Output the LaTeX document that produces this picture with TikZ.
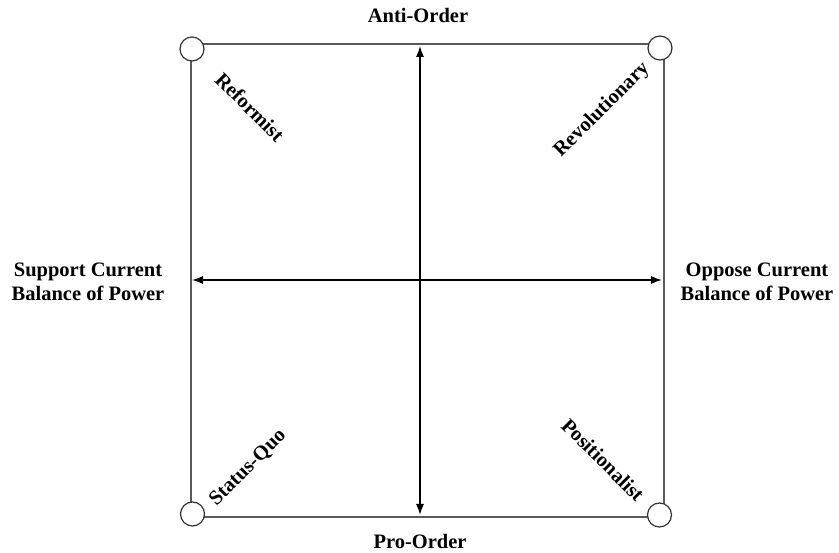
\documentclass[tikz,border=0pt]{standalone}
\usepackage{fontspec}
\setmainfont{Liberation Serif}
\usetikzlibrary{arrows.meta}
\begin{document}
\begin{tikzpicture}[x=1pt,y=-1pt,
  lbl/.style={font=\fontsize{20.5}{24}\selectfont\bfseries, align=center, inner sep=0pt},
  boxline/.style={draw=black!65, line width=1.3pt},
  corner/.style={circle, draw=black!80, fill=white, line width=1.2pt, minimum size=24pt, inner sep=0pt},
  axis/.style={line width=1.3pt, {Latex[length=11pt,width=8pt]}-{Latex[length=11pt,width=8pt]}}
]
\useasboundingbox (0,0) rectangle (839,553);
\coordinate (tl) at (191,44);
\coordinate (tr) at (664,44);
\coordinate (bl) at (191,517);
\coordinate (br) at (664,517);
\draw[boxline] (tl) -- (tr) -- (br) -- (bl) -- cycle;
\node[corner] (ctl) at (192,49) {};
\node[corner] (ctr) at (660,48) {};
\node[corner] (cbl) at (192.5,514) {};
\node[corner] (cbr) at (659.5,515) {};
\coordinate (vt) at (420,46);
\coordinate (vb) at (420,515);
\coordinate (hl) at (192,280);
\coordinate (hr) at (662,280);
\draw[axis] (vt) -- (vb);
\draw[axis] (hl) -- (hr);
\node[lbl] (anti) at (418,15) {Anti-Order};
\node[lbl] (pro) at (420,541) {Pro-Order};
\node[lbl] (supp) at (88,282) {Support Current\\Balance of Power};
\node[lbl] (opp) at (757,282) {Oppose Current\\Balance of Power};
\node[lbl, rotate=-45] (ref) at (250,107) {Reformist};
\node[lbl, rotate=45] (rev) at (602,110) {Revolutionary};
\node[lbl, rotate=45] (sq) at (248,468) {Status-Quo};
\node[lbl, rotate=-45] (pos) at (603,460) {Positionalist};
\end{tikzpicture}
\end{document}
